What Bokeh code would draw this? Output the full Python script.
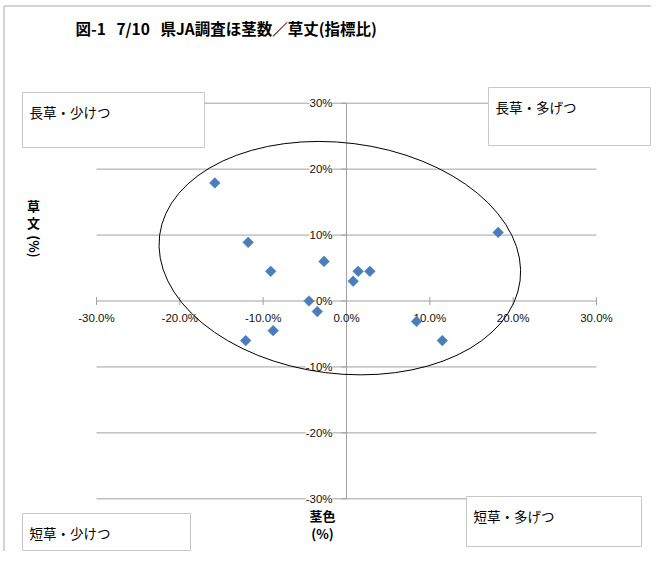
import numpy as np
from bokeh.plotting import figure
from bokeh.models import Range1d
from bokeh.core.properties import value
from bokeh.embed import file_html
from bokeh.resources import INLINE

# ---------------- data ----------------
stem_pct = [-15.8, -11.8, -9.1, -2.7, -4.5, -3.5, -8.8, -12.1, 0.8, 1.4, 2.8, 18.2, 8.4, 11.5]
height_pct = [17.9, 8.9, 4.5, 6.0, 0.0, -1.6, -4.5, -6.0, 3.0, 4.5, 4.5, 10.4, -3.1, -6.0]

x_ticks = [-30, -20, -10, 0, 10, 20, 30]
x_tick_labels = ["-30.0%", "-20.0%", "-10.0%", "0.0%", "10.0%", "20.0%", "30.0%"]
y_ticks = [30, 20, 10, 0, -10, -20, -30]
y_tick_labels = ["30%", "20%", "10%", "0%", "-10%", "-20%", "-30%"]

quadrant_labels = ["長草・少けつ", "長草・多げつ", "短草・少けつ", "短草・多げつ"]
title_text = "図-1\u00a0\u00a0\u00a07/10\u00a0\u00a0\u00a0県JA調査ほ茎数／草丈(指標比)"
x_title_lines = ["茎色", "(%)"]
y_title_chars = ["草", "文"]
y_title_tail = "(%)"

# ellipse (data units, %)
ell_cx, ell_cy = -0.8, 6.5
ell_w, ell_h = 43.6, 35.0
ell_angle = -7.2 * np.pi / 180

# ---------------- geometry ----------------
W, H = 651, 551
PAGE = 0
X0, XS = 346.0, 500.0 / 60.0
Y0, YS = 300.5, 395.6 / 60.0


def dx(sx):
    return (sx - X0) / XS


def dy(sy):
    return (Y0 - sy) / YS


JP = value("Noto Sans CJK JP")
NUM = value("Liberation Sans")

p = figure(width=W, height=H,
           x_range=Range1d(dx(PAGE), dx(PAGE + W)),
           y_range=Range1d(dy(PAGE + H), dy(PAGE)),
           toolbar_location=None, output_backend="svg",
           x_axis_location=None, y_axis_location=None,
           min_border=0, outline_line_color=None)
p.grid.visible = False
p.background_fill_color = "white"
p.border_fill_color = "white"

GRID = "#a0a0a0"

# chart-area border (left/top visible in reference)
p.segment(x0=[dx(3.5)], y0=[dy(PAGE + H)], x1=[dx(3.5)], y1=[dy(5.5)],
          line_color="#a8a8a8", line_width=1)
p.segment(x0=[dx(3.5)], y0=[dy(5.5)], x1=[dx(PAGE + W)], y1=[dy(5.5)],
          line_color="#a8a8a8", line_width=1)

xmin, xmax = x_ticks[0], x_ticks[-1]
ymin, ymax = min(y_ticks), max(y_ticks)

# horizontal gridlines
p.segment(x0=[xmin] * len(y_ticks), y0=y_ticks, x1=[xmax] * len(y_ticks), y1=y_ticks,
          line_color=GRID, line_width=1)
# vertical axis line at x=0
p.segment(x0=[0], y0=[ymin], x1=[0], y1=[ymax], line_color=GRID, line_width=1)
# x-axis tick marks
tk = 4 / YS
p.segment(x0=x_ticks, y0=[-tk] * len(x_ticks), x1=x_ticks, y1=[tk] * len(x_ticks),
          line_color=GRID, line_width=1)
# y-axis tick marks (outside, left)
tx = 5 / XS
p.segment(x0=[-tx] * len(y_ticks), y0=y_ticks, x1=[0] * len(y_ticks), y1=y_ticks,
          line_color=GRID, line_width=1)

# tick labels
p.text(x=x_ticks, y=[dy(Y0 + 17)] * len(x_ticks), text=x_tick_labels,
       text_font=NUM, text_font_size=value("11.5px"), text_color="#111111",
       text_align="center", text_baseline="middle")
p.text(x=[dx(X0 - 14)] * len(y_ticks), y=y_ticks, text=y_tick_labels,
       text_font=NUM, text_font_size=value("11.5px"), text_color="#111111",
       text_align="right", text_baseline="middle",
       background_fill_color="white", padding=0)

# ellipse
p.ellipse(x=[ell_cx], y=[ell_cy], width=[ell_w], height=[ell_h], angle=[ell_angle],
          fill_color=None, line_color="black", line_width=1)

# points
p.scatter(x=stem_pct, y=height_pct, marker="square", size=7.6, angle=np.pi / 4,
          fill_color="#4a7ebb", line_color="#4a7ebb", line_width=0.5)

# quadrant boxes (screen px: left, top, right, bottom)
boxes = [(22, 92, 204, 147), (488, 87, 650, 145), (22, 513, 190, 550), (466, 496, 641, 546)]
p.quad(left=[dx(b[0]) for b in boxes], right=[dx(b[2]) for b in boxes],
       top=[dy(b[1]) for b in boxes], bottom=[dy(b[3]) for b in boxes],
       fill_color="white", line_color="#c8c8c8", line_width=1)
p.text(x=[dx(b[0] + 7) for b in boxes], y=[dy(b[1] + 19) for b in boxes], text=quadrant_labels,
       text_font=JP, text_font_size=value("13.5px"), text_color="black",
       text_align="left", text_baseline="middle")

# title
p.text(x=[dx(75)], y=[dy(27)], text=[title_text], text_font=JP,
       text_font_size=value("15.5px"), text_font_style="bold", text_color="black",
       text_align="left", text_baseline="middle")

# x-axis title
p.text(x=[dx(322)] * 2, y=[dy(515), dy(533)], text=x_title_lines, text_font=JP,
       text_font_size=value("13px"), text_font_style="bold", text_color="black",
       text_align="center", text_baseline="middle")

# y-axis title (vertical writing)
p.text(x=[dx(33)] * 2, y=[dy(205), dy(222)], text=y_title_chars, text_font=JP,
       text_font_size=value("13px"), text_font_style="bold", text_color="black",
       text_align="center", text_baseline="middle")
p.text(x=[dx(34)], y=[dy(246)], text=[y_title_tail], angle=-np.pi / 2, text_font=JP,
       text_font_size=value("13px"), text_font_style="bold", text_color="black",
       text_align="center", text_baseline="middle")

open("out.html", "w").write(file_html(p, INLINE))
